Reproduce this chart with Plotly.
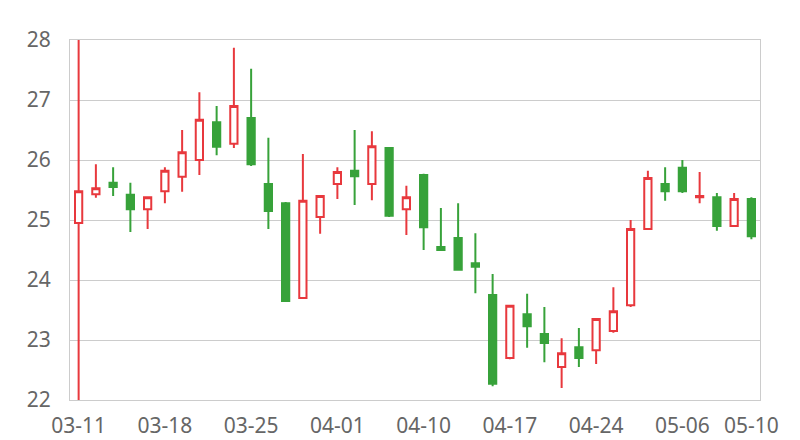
import plotly.graph_objects as go

dates = ["03-11", "03-12", "03-13", "03-14", "03-15",
         "03-18", "03-19", "03-20", "03-21", "03-22",
         "03-25", "03-26", "03-27", "03-28", "03-29",
         "04-01", "04-02", "04-03", "04-08", "04-09",
         "04-10", "04-11", "04-12", "04-15", "04-16",
         "04-17", "04-18", "04-19", "04-22", "04-23",
         "04-24", "04-25", "04-26", "04-29", "04-30",
         "05-06", "05-07", "05-08", "05-09", "05-10"]

open_ = [24.95, 25.43, 25.62, 25.42, 25.18, 25.48, 25.72, 26.00, 26.63, 26.27,
         26.70, 25.60, 25.28, 23.70, 25.05, 25.60, 25.82, 25.60, 26.20, 25.18,
         25.75, 24.55, 24.70, 24.28, 23.75, 22.70, 23.43, 23.10, 22.55, 22.88,
         22.83, 23.15, 23.58, 24.85, 25.60, 25.87, 25.38, 25.38, 24.90, 25.35]
close = [25.48, 25.53, 25.55, 25.18, 25.38, 25.82, 26.13, 26.67, 26.22, 26.90,
         25.93, 25.15, 23.65, 25.32, 25.40, 25.80, 25.73, 26.23, 25.07, 25.38,
         24.88, 24.50, 24.17, 24.22, 22.27, 23.57, 23.23, 22.95, 22.78, 22.70,
         23.35, 23.48, 24.85, 25.70, 25.48, 25.48, 25.40, 24.90, 25.35, 24.73]
high = [28.50, 25.93, 25.88, 25.62, 25.38, 25.88, 26.50, 27.13, 26.90, 27.87,
        27.52, 26.37, 25.30, 26.10, 25.40, 25.88, 26.50, 26.48, 26.20, 25.57,
        25.77, 25.20, 25.28, 24.78, 24.10, 23.58, 23.77, 23.55, 23.03, 23.20,
        23.35, 23.88, 25.00, 25.82, 25.88, 26.00, 25.80, 25.45, 25.45, 25.38]
low = [21.50, 25.37, 25.40, 24.80, 24.85, 25.28, 25.47, 25.75, 26.08, 26.20,
       25.90, 24.85, 23.65, 23.70, 24.77, 25.35, 25.25, 25.33, 25.05, 24.75,
       24.50, 24.50, 24.17, 23.78, 22.23, 22.68, 22.87, 22.63, 22.20, 22.55,
       22.60, 23.12, 23.55, 24.85, 25.32, 25.45, 25.28, 24.82, 24.90, 24.68]

tick_labels = ["03-11", "03-18", "03-25", "04-01", "04-10", "04-17", "04-24", "05-06", "05-10"]
y_ticks = [22, 23, 24, 25, 26, 27, 28]

RED = "#e8383d"
GREEN = "#37a23a"

fig = go.Figure(go.Candlestick(
    x=dates, open=open_, high=high, low=low, close=close,
    increasing=dict(line=dict(color=RED, width=2), fillcolor="white"),
    decreasing=dict(line=dict(color=GREEN, width=2), fillcolor=GREEN),
    whiskerwidth=0,
    hoverinfo="x+y",
))

fig.update_layout(
    width=792, height=432,
    margin=dict(l=62, r=40, t=32, b=40, autoexpand=False),
    paper_bgcolor="white", plot_bgcolor="white",
    showlegend=False,
    boxgap=0.4,
    font=dict(family="Noto Sans, Open Sans, sans-serif", size=21, color="#666666"),
    xaxis=dict(
        type="category", categoryorder="array", categoryarray=dates,
        range=[-0.5, len(dates) - 0.5],
        tickmode="array", tickvals=tick_labels, ticktext=tick_labels,
        showgrid=False, showline=True, linecolor="#cccccc", linewidth=1, mirror=True,
        ticks="", rangeslider=dict(visible=False), fixedrange=True,
        ticklabelstandoff=7,
        tickfont=dict(size=21, color="#666666"),
    ),
    yaxis=dict(
        range=[22, 28], tickmode="array", tickvals=y_ticks,
        showgrid=True, gridcolor="#cccccc", gridwidth=1,
        showline=True, linecolor="#cccccc", linewidth=1, mirror=True,
        zeroline=False, ticks="", ticklabelstandoff=14,
        tickfont=dict(size=21, color="#666666"),
    ),
)

fig.write_html("out.html")
